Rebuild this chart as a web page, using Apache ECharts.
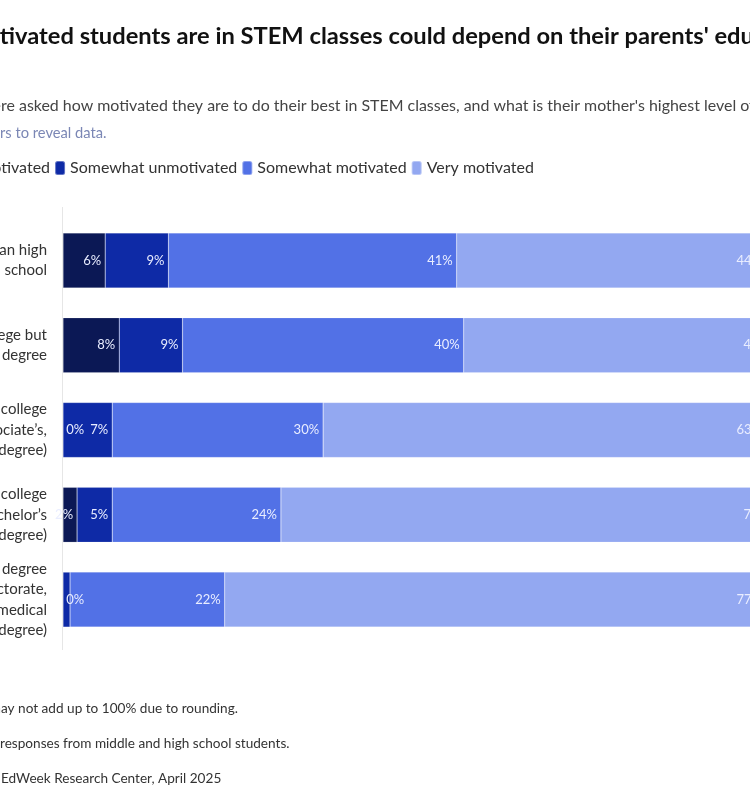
<!DOCTYPE html>
<html>
<head>
<meta charset="utf-8">
<script src="https://cdn.jsdelivr.net/npm/echarts@6/dist/echarts.min.js"></script>
<style>
  html, body { margin: 0; padding: 0; background: #fff; }
  #main { width: 750px; height: 800px; }
</style>
</head>
<body>
<div id="main"></div>
<script>
var chartDom = document.getElementById('main');
var myChart = echarts.init(chartDom);
var option;

// mother's highest level of education (top to bottom)
var categories = [
    'Less than high\nschool',
    'Some college but\nno degree',
    'Finished college\n(associate\u2019s,\n2-year degree)',
    'Finished college\n(bachelor\u2019s\n4-year degree)',
    'Graduate degree\n(master\u2019s, doctorate,\nlegal or medical\ndegree)'
];

var seriesNames = ['Very unmotivated', 'Somewhat unmotivated', 'Somewhat motivated', 'Very motivated'];
var colors = ['#0b1855', '#0e2aa6', '#5271e6', '#93a8f1'];

// percentages, one array per motivation level (rounded, so rows can sum to 101)
var veryUnmotivated = [6, 8, 0, 2, 0];
var somewhatUnmotivated = [9, 9, 7, 5, 1];
var somewhatMotivated = [41, 40, 30, 24, 22];
var veryMotivated = [44, 44, 63, 70, 77];

var values = [veryUnmotivated, somewhatUnmotivated, somewhatMotivated, veryMotivated];

var font = 'Lato';

// the picture is a crop of a wider graphic: shift each text so the
// cropped prefix falls left of the canvas edge
var ctx = document.createElement('canvas').getContext('2d');
function prefixWidth(str, size, weight) {
    ctx.font = (weight || 'normal') + ' ' + size + 'px ' + font;
    return ctx.measureText(str).width;
}

function makeSeries(idx) {
    return {
        name: seriesNames[idx],
        type: 'bar',
        stack: 'total',
        barWidth: 55,
        clip: false,
        itemStyle: {
            color: colors[idx],
            borderColor: 'rgba(255,255,255,0.35)',
            borderWidth: 0.5
        },
        label: {
            show: true,
            position: 'insideRight',
            distance: 4,
            color: '#e9edff',
            fontFamily: font,
            fontSize: 13,
            formatter: '{c}%'
        },
        data: values[idx].map(function (v) {
            if (v === 0) {
                return { value: v, label: { position: 'right', distance: 3 } };
            }
            if (v === 1) {
                return { value: v, label: { show: false } };
            }
            return v;
        })
    };
}

function cropText(text, prefix, x, y, size, weight, color) {
    return {
        type: 'text',
        left: x - prefixWidth(prefix, size, weight),
        top: y,
        style: {
            text: text,
            fontFamily: font,
            fontWeight: weight || 'normal',
            fontSize: size,
            fill: color
        }
    };
}

option = {
    backgroundColor: '#fff',
    animation: false,
    textStyle: { fontFamily: font },
    grid: {
        left: 63,
        top: 218,
        width: 703,
        height: 424,
        containLabel: false,
        outerBoundsMode: 'none'
    },
    legend: {
        left: -96,
        top: 155,
        itemWidth: 10,
        itemHeight: 14,
        itemGap: 4,
        icon: 'roundRect',
        textStyle: { fontFamily: font, fontSize: 16, color: '#333' },
        data: seriesNames
    },
    xAxis: {
        type: 'value',
        min: 0,
        max: 100,
        show: false
    },
    yAxis: {
        type: 'category',
        inverse: true,
        data: categories,
        axisLine: { show: false },
        axisTick: { show: false },
        axisLabel: {
            margin: 16,
            fontFamily: font,
            fontSize: 15,
            lineHeight: 20.5,
            color: '#333',
            align: 'right',
            padding: [0, 0, 10, 0]
        }
    },
    graphic: [
        cropText('How motivated students are in STEM classes could depend on their parents\' education',
            'How mo', 0, 24, 23.7, 'bold', '#111'),
        cropText('Students were asked how motivated they are to do their best in STEM classes, and what is their mother\'s highest level of education.',
            'Students we', 1, 98, 15.95, 'normal', '#444'),
        cropText('Hover over bars to reveal data.', 'Hover over ba', 0, 126, 14.7, 'normal', '#7b87b5'),
        {
            type: 'line',
            shape: { x1: 62.5, y1: 207, x2: 62.5, y2: 650 },
            style: { stroke: '#e6e6e6', lineWidth: 1 }
        },
        cropText('Note: Percentages may not add up to 100% due to rounding.', 'Note: Percentages m', 1, 702, 13.6, 'normal', '#333'),
        cropText('Based on responses from middle and high school students.', 'Based on ', 0, 737, 13.6, 'normal', '#333'),
        cropText('Source: EdWeek Research Center, April 2025', 'Source: ', 1, 772, 13.6, 'normal', '#333')
    ],
    series: [makeSeries(0), makeSeries(1), makeSeries(2), makeSeries(3)]
};

option && myChart.setOption(option);
</script>
</body>
</html>
